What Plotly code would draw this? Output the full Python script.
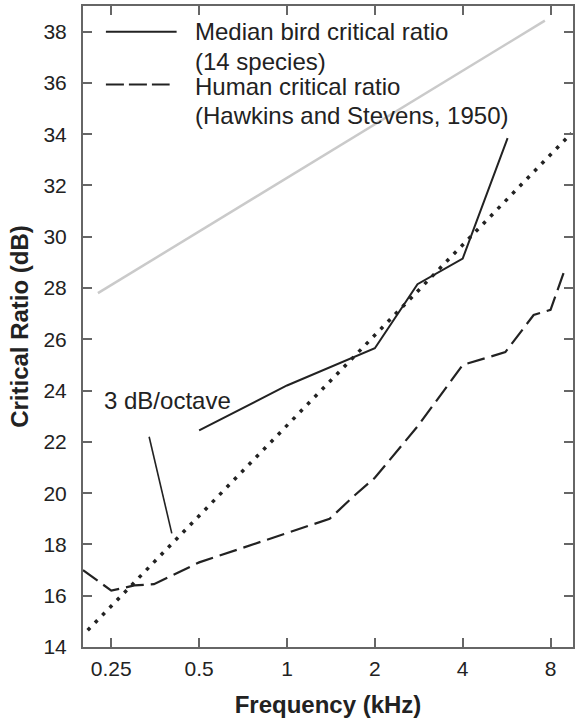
import math
import plotly.graph_objects as go

# Median bird critical ratio (14 species), dB
bird_freq = [0.5, 1.0, 2.0, 2.8, 4.0, 5.7]
bird_cr = [22.45, 24.2, 25.65, 28.15, 29.15, 33.85]

# Human critical ratio (Hawkins and Stevens, 1950), dB
human_freq = [0.2, 0.25, 0.3, 0.35, 0.5, 0.7, 1.0, 1.4, 1.7, 2.0, 2.8, 4.0, 5.6, 7.0, 8.0, 9.0]
human_cr = [17.0, 16.2, 16.4, 16.45, 17.3, 17.85, 18.45, 19.0, 19.9, 20.6, 22.6, 25.0, 25.5, 26.95, 27.15, 28.8]

# 3 dB/octave reference slope (dotted) and grey reference line
slope_freq = [0.2075, 9.43]
slope_cr = [14.65, 34.04]
grey_freq = [0.225, 7.65]
grey_cr = [27.8, 38.43]

# pointer from the "3 dB/octave" label to the dotted line
pointer_freq = [0.337, 0.403]
pointer_cr = [22.2, 18.43]

x_ticks = [0.25, 0.5, 1, 2, 4, 8]
x_ticktext = ["0.25", "0.5", "1", "2", "4", "8"]
y_ticks = list(range(14, 40, 2))

W, H = 575, 724
ML, MR, MT, MB = 83, 0, 6, 77
FONT = "Liberation Sans, Arial, Helvetica, sans-serif"
INK = "#222222"
AXIS = "#666666"


def px(x):
    return (x - ML) / (W - ML - MR)


def py(y):
    return (H - MB - y) / (H - MB - MT)


fig = go.Figure()

fig.add_trace(go.Scatter(x=grey_freq, y=grey_cr, mode="lines",
                         line=dict(color="#cacaca", width=2.5), showlegend=False))
fig.add_trace(go.Scatter(x=slope_freq, y=slope_cr, mode="lines",
                         line=dict(color="#222222", width=3.5, dash="3.5px,7px"), showlegend=False))
fig.add_trace(go.Scatter(x=human_freq, y=human_cr, mode="lines",
                         line=dict(color=INK, width=2.2, dash="18px,7px"), showlegend=False))
fig.add_trace(go.Scatter(x=bird_freq, y=bird_cr, mode="lines",
                         line=dict(color=INK, width=2), showlegend=False))
fig.add_trace(go.Scatter(x=pointer_freq, y=pointer_cr, mode="lines",
                         line=dict(color=INK, width=1.6), showlegend=False))

# hand-drawn legend
fig.add_shape(type="line", xref="paper", yref="paper", x0=px(106), x1=px(177),
              y0=py(31.7), y1=py(31.7), line=dict(color=INK, width=2))
fig.add_shape(type="line", xref="paper", yref="paper", x0=px(106), x1=px(170),
              y0=py(84.5), y1=py(84.5), line=dict(color=INK, width=2.2, dash="18px,5px"))
legend_lines = [
    ("Median bird critical ratio", 32),
    ("(14 species)", 62),
    ("Human critical ratio", 86),
    ("(Hawkins and Stevens, 1950)", 116),
]
for text, ypix in legend_lines:
    fig.add_annotation(text=text, xref="paper", yref="paper", x=px(193), y=py(ypix),
                       xanchor="left", yanchor="middle", showarrow=False,
                       font=dict(family=FONT, size=24, color=INK))

fig.add_annotation(text="3 dB/octave", x=math.log10(0.232), y=23.63,
                   xanchor="left", yanchor="middle", showarrow=False,
                   font=dict(family=FONT, size=24, color=INK))

fig.update_layout(
    width=W, height=H,
    margin=dict(l=ML, r=MR, t=MT, b=MB),
    paper_bgcolor="white", plot_bgcolor="white",
    font=dict(family=FONT, color=INK),
    xaxis=dict(
        type="log", range=[math.log10(0.2), math.log10(9.55)],
        tickvals=x_ticks, ticktext=x_ticktext,
        ticks="inside", ticklen=9, tickwidth=2, tickcolor=AXIS,
        showline=True, linecolor=AXIS, linewidth=2, mirror="ticks",
        showgrid=False, zeroline=False,
        tickfont=dict(family=FONT, size=21, color=INK), ticklabelstandoff=2,
        title=dict(text="<b>Frequency (kHz)</b>", standoff=17,
                   font=dict(family=FONT, size=24, color=INK)),
    ),
    yaxis=dict(
        range=[14, 39], tickvals=y_ticks,
        ticks="inside", ticklen=9, tickwidth=2, tickcolor=AXIS,
        showline=True, linecolor=AXIS, linewidth=2, mirror="ticks",
        showgrid=False, zeroline=False,
        tickfont=dict(family=FONT, size=21, color=INK), ticklabelstandoff=10,
        title=dict(text="<b>Critical Ratio (dB)</b>", standoff=8,
                   font=dict(family=FONT, size=24, color=INK)),
    ),
)

fig.write_html("out.html")
